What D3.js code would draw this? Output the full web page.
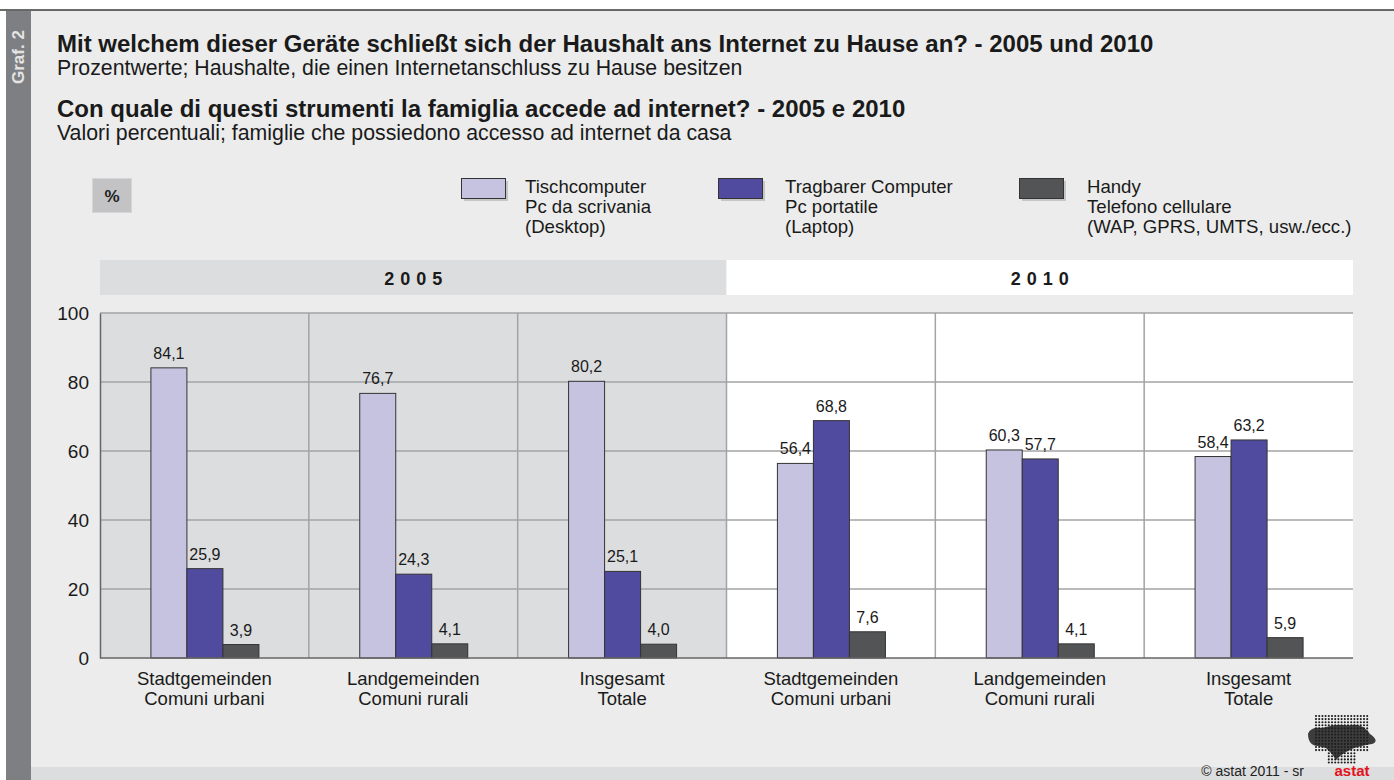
<!DOCTYPE html>
<html><head><meta charset="utf-8">
<script src="https://cdn.jsdelivr.net/npm/d3@7/dist/d3.min.js"></script>
<style>
html,body{margin:0;padding:0;background:#fff;}
svg{display:block;font-family:"Liberation Sans",Arial,sans-serif;}
</style></head>
<body>
<svg id="c" width="1394" height="780"></svg>
<script>
const years = ["2005", "2010"];
const categories = [
  ["Stadtgemeinden", "Comuni urbani"],
  ["Landgemeinden", "Comuni rurali"],
  ["Insgesamt", "Totale"],
  ["Stadtgemeinden", "Comuni urbani"],
  ["Landgemeinden", "Comuni rurali"],
  ["Insgesamt", "Totale"]
];
const seriesNames = [
  ["Tischcomputer", "Pc da scrivania", "(Desktop)"],
  ["Tragbarer Computer", "Pc portatile", "(Laptop)"],
  ["Handy", "Telefono cellulare", "(WAP, GPRS, UMTS, usw./ecc.)"]
];
const desktop = [84.1, 76.7, 80.2, 56.4, 60.3, 58.4];
const laptop  = [25.9, 24.3, 25.1, 68.8, 57.7, 63.2];
const handy   = [3.9, 4.1, 4.0, 7.6, 4.1, 5.9];
const yTicks = [0, 20, 40, 60, 80, 100];
const colors = ["#c6c3e1", "#514ba0", "#535456"];

const svg = d3.select("#c");
// backgrounds
svg.append("rect").attr("x",0).attr("y",0).attr("width",1394).attr("height",780).attr("fill","#fff");
svg.append("rect").attr("x",6).attr("y",10).attr("width",1388).attr("height",770).attr("fill","#ebeceb");
svg.append("line").attr("x1",0).attr("x2",1394).attr("y1",10).attr("y2",10).attr("stroke","#3a3a3a").attr("stroke-width",1.6);
svg.append("rect").attr("x",6).attr("y",11).attr("width",25).attr("height",769).attr("fill","#7e7f82");
svg.append("rect").attr("x",31).attr("y",767).attr("width",1363).attr("height",13).attr("fill","#dcdddf");
svg.append("text").attr("transform","translate(24,84) rotate(-90)").attr("fill","#e4e4e4")
  .attr("font-size",17).attr("font-weight","bold").text("Graf. 2");

// titles
const tx = 57;
svg.append("text").attr("x",tx).attr("y",52).attr("font-size",24).attr("font-weight","bold").attr("fill","#1a1a1a")
  .text("Mit welchem dieser Geräte schließt sich der Haushalt ans Internet zu Hause an? - 2005 und 2010");
svg.append("text").attr("x",tx).attr("y",75).attr("font-size",21.3).attr("fill","#1a1a1a")
  .text("Prozentwerte; Haushalte, die einen Internetanschluss zu Hause besitzen");
svg.append("text").attr("x",tx).attr("y",117).attr("font-size",24).attr("font-weight","bold").attr("fill","#1a1a1a")
  .text("Con quale di questi strumenti la famiglia accede ad internet? - 2005 e 2010");
svg.append("text").attr("x",tx).attr("y",140).attr("font-size",21.3).attr("fill","#1a1a1a")
  .text("Valori percentuali; famiglie che possiedono accesso ad internet da casa");

// % box
svg.append("rect").attr("x",92.5).attr("y",178.5).attr("width",39).attr("height",34).attr("fill","#c3c3c6").attr("stroke","#d6d6d8");
svg.append("text").attr("x",112).attr("y",202).attr("text-anchor","middle").attr("font-size",17).attr("font-weight","bold").attr("fill","#222").text("%");

// legend
const legX = [461, 718, 1019];
const legTextX = [525, 785, 1087];
seriesNames.forEach((s, i) => {
  const g = svg.append("g").attr("transform", `translate(${legX[i]},178)`);
  g.append("rect").attr("x",3).attr("y",3).attr("width",44).attr("height",20).attr("fill","#c6c6c6");
  g.append("rect").attr("x",0.5).attr("y",0.5).attr("width",44).attr("height",20).attr("fill",colors[i]).attr("stroke","#333").attr("stroke-width",1);
  s.forEach((line, j) => {
    g.append("text").attr("x", legTextX[i]-legX[i]).attr("y", 15 + j*20).attr("font-size",18.6).attr("fill","#1a1a1a").text(line);
  });
});

// scales
const plotL = 100, plotR = 1353, plotT = 313, plotB = 658;
const y = d3.scaleLinear().domain([0,100]).range([plotB, plotT]);
const x0 = d3.scaleBand().domain(d3.range(categories.length)).range([plotL, plotR]).padding(0);
const gw = x0.bandwidth();
const x1 = d3.scaleBand().domain([0,1,2]).range([0, gw]).paddingInner(0).paddingOuter(1.4);

// year bands
const yearX = d3.scaleBand().domain(years).range([plotL, plotR]);
svg.append("rect").attr("x",yearX("2005")).attr("y",260).attr("width",yearX.bandwidth()).attr("height",35).attr("fill","#dcdddf");
svg.append("rect").attr("x",yearX("2010")).attr("y",260).attr("width",yearX.bandwidth()).attr("height",35).attr("fill","#ffffff");
years.forEach(yr => {
  svg.append("text").attr("x", yearX(yr) + yearX.bandwidth()/2 + 3).attr("y",285).attr("text-anchor","middle")
    .attr("font-size",18).attr("font-weight","bold").attr("letter-spacing","6px").attr("fill","#1a1a1a").text(yr);
});
svg.append("rect").attr("x",yearX("2005")).attr("y",plotT).attr("width",yearX.bandwidth()).attr("height",plotB-plotT).attr("fill","#dcdddf");
svg.append("rect").attr("x",yearX("2010")).attr("y",plotT).attr("width",yearX.bandwidth()).attr("height",plotB-plotT).attr("fill","#ffffff");

// gridlines
svg.append("g").selectAll("line").data(yTicks.filter(d=>d>0)).join("line")
  .attr("x1",plotL).attr("x2",plotR).attr("y1",d=>y(d)).attr("y2",d=>y(d))
  .attr("stroke","#a3a3a5").attr("stroke-width",1.5);
svg.append("g").selectAll("line").data(d3.range(1, categories.length)).join("line")
  .attr("x1",d=>x0(d)).attr("x2",d=>x0(d)).attr("y1",plotT).attr("y2",plotB)
  .attr("stroke","#a3a3a5").attr("stroke-width",1.5);

// y axis
const yAxis = d3.axisLeft(y).tickValues(yTicks).tickSize(0).tickPadding(11);
const ya = svg.append("g").attr("transform",`translate(${plotL},0)`).call(yAxis);
ya.select(".domain").attr("stroke","#666").attr("stroke-width",1.5);
ya.selectAll("text").attr("font-size",19).attr("fill","#1a1a1a").attr("font-family","Liberation Sans, Arial, sans-serif").attr("dy","0.35em");

// bars
const series = [desktop, laptop, handy];
const fmt = v => v.toFixed(1).replace(".", ",");
series.forEach((vals, si) => {
  const g = svg.append("g");
  g.selectAll("rect").data(vals).join("rect")
    .attr("x",(d,i)=>x0(i)+x1(si)+0.5).attr("width",x1.bandwidth())
    .attr("y",d=>y(d)).attr("height",d=>y(0)-y(d))
    .attr("fill",colors[si]).attr("stroke","#333").attr("stroke-width",1);
  g.selectAll("text").data(vals).join("text")
    .attr("x",(d,i)=>x0(i)+x1(si)+0.5+x1.bandwidth()/2).attr("y",d=>y(d)-9)
    .attr("text-anchor","middle").attr("font-size",16).attr("fill","#1a1a1a").text(fmt);
});

// baseline
svg.append("line").attr("x1",plotL).attr("x2",plotR).attr("y1",plotB).attr("y2",plotB).attr("stroke","#666").attr("stroke-width",1.5);

// x labels
categories.forEach((c, i) => {
  c.forEach((line, j) => {
    svg.append("text").attr("x", x0(i)+gw/2).attr("y", 685 + j*20).attr("text-anchor","middle")
      .attr("font-size",18.5).attr("fill","#1a1a1a").text(line);
  });
});

// footer
svg.append("text").attr("x",1304).attr("y",776).attr("text-anchor","end").attr("font-size",14).attr("fill","#222").text("©  astat 2011 - sr");

// logo (decorative)
const logo = svg.append("g").attr("transform","translate(1308,716)");
for (let r = 0; r < 16; r++) {
  for (let c = 0; c < 17; c++) {
    const cx = 8 + c*3.2, cy = r*3.1;
    if (cy > 36 && (c < 4 || c > 12)) continue;
    logo.append("circle").attr("cx",cx).attr("cy",cy).attr("r",1.05).attr("fill","#1e1e1e");
  }
}
logo.append("path").attr("d","M0,18 C2,12 8,11 14,12 L22,10 C28,8 36,10 44,9 C52,8 58,12 62,18 C68,22 70,26 64,28 C58,29 52,30 46,32 L38,36 L32,40 L28,44 L24,38 L18,32 L10,30 C4,30 0,26 0,18 Z")
  .attr("fill","#1e1e1e").attr("opacity",0.85);
svg.append("text").attr("x",1352).attr("y",776).attr("text-anchor","middle").attr("font-size",15).attr("font-weight","bold").attr("fill","#e3131b").text("astat");
</script>
</body></html>
